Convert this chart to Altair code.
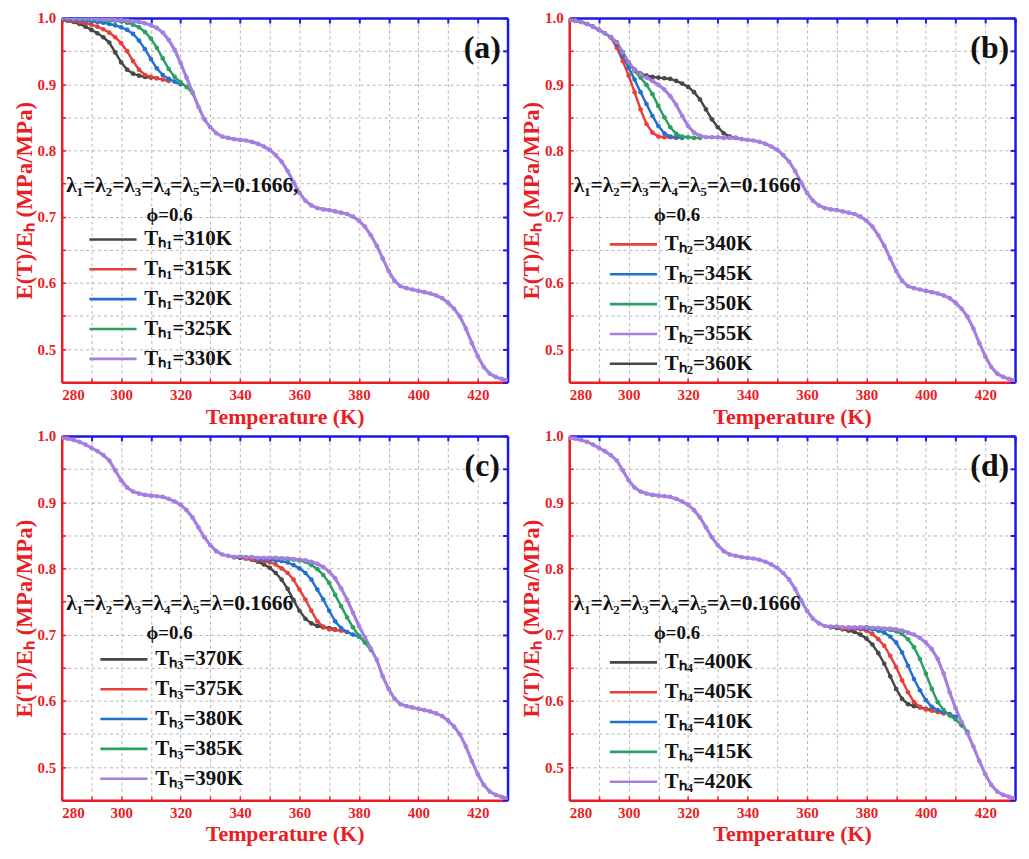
import altair as alt
import pandas as pd

FONT = "Liberation Serif"
RED_AX = "#ea1c24"
BLUE_AX = "#1a1ae6"
C_BLACK = "#474747"
C_RED = "#e5403d"
C_BLUE = "#2270cf"
C_GREEN = "#2e9e63"
C_PURPLE = "#a57fe0"

X_TICKS = [280, 290, 300, 310, 320, 330, 340, 350, 360, 370, 380, 390, 400, 410, 420, 430]
Y_TICKS = [0.45, 0.5, 0.55, 0.6, 0.65, 0.7, 0.75, 0.8, 0.85, 0.9, 0.95, 1.0]

# common curve
BASE_T = [280, 282, 284, 286, 288, 290, 292, 294, 296, 298, 300, 302, 304, 306, 308, 310,
          312, 314, 316, 318, 320, 322, 324, 326, 328, 330, 332, 334, 336, 338, 340, 342,
          344, 346, 348, 350, 352, 354, 356, 358, 360, 362, 364, 366, 368, 370, 372, 374,
          376, 378, 380, 382, 384, 386, 388, 390, 392, 394, 396, 398, 400, 402, 404, 406,
          408, 410, 412, 414, 416, 418, 420, 422, 424, 426, 428, 430]
BASE_V = [0.997, 0.996, 0.994, 0.991, 0.987, 0.982, 0.977, 0.971, 0.963, 0.948, 0.933, 0.922,
          0.916, 0.913, 0.911, 0.910, 0.909, 0.908, 0.905, 0.901, 0.896, 0.888, 0.877, 0.862,
          0.847, 0.835, 0.826, 0.821, 0.819, 0.817, 0.816, 0.815, 0.813, 0.810, 0.806, 0.801,
          0.793, 0.783, 0.769, 0.752, 0.736, 0.724, 0.717, 0.713, 0.711, 0.710, 0.708, 0.706,
          0.704, 0.700, 0.694, 0.685, 0.672, 0.656, 0.637, 0.618, 0.603, 0.595, 0.592, 0.590,
          0.588, 0.586, 0.584, 0.581, 0.577, 0.570, 0.561, 0.549, 0.531, 0.509, 0.489, 0.473,
          0.463, 0.458, 0.455, 0.453]

# panel (a)
A315_T = [280, 282, 284, 286, 288, 290, 292, 294, 296, 298, 300, 302, 304, 306, 308, 310, 312, 314, 316]
A315_V = [0.997, 0.996, 0.995, 0.994, 0.992, 0.990, 0.987, 0.983, 0.978, 0.971, 0.962, 0.950,
          0.935, 0.922, 0.914, 0.911, 0.909, 0.907, 0.905]
A320_T = [280, 282, 284, 286, 288, 290, 292, 294, 296, 298, 300, 302, 304, 306, 308, 310, 312,
          314, 316, 318, 320]
A320_V = [0.998, 0.998, 0.997, 0.997, 0.996, 0.995, 0.994, 0.993, 0.991, 0.989, 0.986, 0.982,
          0.976, 0.966, 0.953, 0.938, 0.924, 0.914, 0.908, 0.904, 0.900]
A325_T = [280, 282, 284, 286, 288, 290, 292, 294, 296, 298, 300, 302, 304, 306, 308, 310, 312,
          314, 316, 318, 320, 322, 324]
A325_V = [0.999, 0.999, 0.999, 0.998, 0.998, 0.998, 0.997, 0.997, 0.996, 0.996, 0.995, 0.993,
          0.990, 0.986, 0.979, 0.969, 0.955, 0.939, 0.923, 0.911, 0.903, 0.896, 0.887]
A330_T = [280, 282, 284, 286, 288, 290, 292, 294, 296, 298, 300, 302, 304, 306, 308, 310, 312,
          314, 316, 318, 320, 322, 324, 326]
A330_V = [1.000, 1.000, 0.999, 0.999, 0.999, 0.999, 0.998, 0.998, 0.998, 0.997, 0.997, 0.996,
          0.995, 0.994, 0.992, 0.989, 0.985, 0.978, 0.967, 0.952, 0.932, 0.910, 0.888, 0.866]

# panel (b)
B340_T = [294, 296, 298, 300, 302, 304, 306, 308, 310, 312, 314, 316]
B340_V = [0.971, 0.955, 0.935, 0.913, 0.888, 0.862, 0.840, 0.827, 0.821, 0.820, 0.820, 0.819]
B345_T = [294, 296, 298, 300, 302, 304, 306, 308, 310, 312, 314, 316, 318]
B345_V = [0.971, 0.960, 0.943, 0.925, 0.907, 0.888, 0.870, 0.852, 0.837, 0.826, 0.821, 0.820, 0.819]
B350_T = [296, 298, 300, 302, 304, 306, 308, 310, 312, 314, 316, 318, 320, 322, 324]
B350_V = [0.963, 0.947, 0.932, 0.920, 0.910, 0.899, 0.885, 0.867, 0.850, 0.835, 0.825, 0.821,
          0.820, 0.819, 0.819]
B355_T = [304, 306, 308, 310, 312, 314, 316, 318, 320, 322, 324, 326, 328, 330, 332, 334]
B355_V = [0.915, 0.910, 0.905, 0.899, 0.892, 0.882, 0.869, 0.852, 0.837, 0.827, 0.822, 0.820,
          0.820, 0.820, 0.819, 0.819]

# panel (c)
C375_T = [342, 344, 346, 348, 350, 352, 354, 356, 358, 360, 362, 364, 366, 368, 370, 372, 374, 376]
C375_V = [0.815, 0.814, 0.812, 0.811, 0.809, 0.806, 0.800, 0.793, 0.783, 0.768, 0.753, 0.736,
          0.720, 0.712, 0.708, 0.707, 0.706, 0.704]
C380_T = [346, 348, 350, 352, 354, 356, 358, 360, 362, 364, 366, 368, 370, 372, 374, 376, 378, 380]
C380_V = [0.814, 0.814, 0.813, 0.812, 0.811, 0.809, 0.805, 0.800, 0.793, 0.783, 0.768, 0.753,
          0.736, 0.720, 0.710, 0.704, 0.700, 0.697]
C385_T = [352, 354, 356, 358, 360, 362, 364, 366, 368, 370, 372, 374, 376, 378, 380, 382, 384]
C385_V = [0.815, 0.815, 0.814, 0.813, 0.812, 0.810, 0.805, 0.799, 0.790, 0.778, 0.760, 0.743,
          0.726, 0.711, 0.698, 0.688, 0.677]
C390_T = [340, 342, 344, 346, 348, 350, 352, 354, 356, 358, 360, 362, 364, 366, 368, 370, 372,
          374, 376, 378, 380, 382, 384, 386]
C390_V = [0.818, 0.817, 0.817, 0.816, 0.816, 0.816, 0.816, 0.815, 0.815, 0.814, 0.813, 0.812,
          0.810, 0.807, 0.802, 0.795, 0.785, 0.770, 0.753, 0.733, 0.713, 0.696, 0.679, 0.662]

# panel (d)
D405_T = [372, 374, 376, 378, 380, 382, 384, 386, 388, 390, 392, 394, 396, 398, 400, 402, 404, 406]
D405_V = [0.709, 0.709, 0.709, 0.708, 0.706, 0.701, 0.693, 0.683, 0.668, 0.651, 0.631, 0.613,
          0.598, 0.591, 0.587, 0.585, 0.583, 0.581]
D410_T = [376, 378, 380, 382, 384, 386, 388, 390, 392, 394, 396, 398, 400, 402, 404, 406, 408, 410]
D410_V = [0.710, 0.710, 0.709, 0.708, 0.706, 0.703, 0.697, 0.688, 0.673, 0.653, 0.633, 0.616,
          0.601, 0.591, 0.586, 0.583, 0.580, 0.576]
D415_T = [380, 382, 384, 386, 388, 390, 392, 394, 396, 398, 400, 402, 404, 406, 408, 410, 412, 414]
D415_V = [0.711, 0.710, 0.709, 0.708, 0.707, 0.705, 0.701, 0.693, 0.681, 0.663, 0.641, 0.618,
          0.598, 0.586, 0.578, 0.572, 0.563, 0.553]
D420_T = [368, 370, 372, 374, 376, 378, 380, 382, 384, 386, 388, 390, 392, 394, 396, 398, 400,
          402, 404, 406, 408, 410, 412, 414]
D420_V = [0.712, 0.712, 0.711, 0.711, 0.711, 0.711, 0.711, 0.710, 0.710, 0.709, 0.709, 0.708,
          0.706, 0.703, 0.700, 0.695, 0.688, 0.678, 0.663, 0.641, 0.613, 0.589, 0.568, 0.551]

LAMBDA_A = "λ₁=λ₂=λ₃=λ₄=λ₅=λ=0.1666,"
LAMBDA = "λ₁=λ₂=λ₃=λ₄=λ₅=λ=0.1666"
PHI = "ϕ=0.6"


def base_part(t0, t1):
    ts = [t for t in BASE_T if t0 <= t <= t1]
    vs = [v for t, v in zip(BASE_T, BASE_V) if t0 <= t <= t1]
    return ts, vs


def base_with(ot, ov):
    lo, hi = min(ot), max(ot)
    pts = [(t, v) for t, v in zip(BASE_T, BASE_V) if t < lo or t > hi] + list(zip(ot, ov))
    pts.sort()
    return [p[0] for p in pts], [p[1] for p in pts]


PANELS = [
    dict(tag="(a)", lam=LAMBDA_A, sub="ₕ₁",
         series=[("310", C_BLACK, base_part(280, 312)), ("315", C_RED, (A315_T, A315_V)),
                 ("320", C_BLUE, (A320_T, A320_V)), ("325", C_GREEN, (A325_T, A325_V)),
                 ("330", C_PURPLE, base_with(A330_T, A330_V))],
         draw=[0, 1, 2, 3, 4], lx=41, ly=212),
    dict(tag="(b)", lam=LAMBDA, sub="ₕ₂",
         series=[("340", C_RED, (B340_T, B340_V)), ("345", C_BLUE, (B345_T, B345_V)),
                 ("350", C_GREEN, (B350_T, B350_V)), ("355", C_PURPLE, base_with(B355_T, B355_V)),
                 ("360", C_BLACK, base_part(280, 336))],
         draw=[4, 0, 1, 2, 3], lx=54, ly=217),
    dict(tag="(c)", lam=LAMBDA, sub="ₕ₃",
         series=[("370", C_BLACK, base_part(338, 372)), ("375", C_RED, (C375_T, C375_V)),
                 ("380", C_BLUE, (C380_T, C380_V)), ("385", C_GREEN, (C385_T, C385_V)),
                 ("390", C_PURPLE, base_with(C390_T, C390_V))],
         draw=[0, 1, 2, 3, 4], lx=52, ly=214),
    dict(tag="(d)", lam=LAMBDA, sub="ₕ₄",
         series=[("400", C_BLACK, base_part(368, 402)), ("405", C_RED, (D405_T, D405_V)),
                 ("410", C_BLUE, (D410_T, D410_V)), ("415", C_GREEN, (D415_T, D415_V)),
                 ("420", C_PURPLE, base_with(D420_T, D420_V))],
         draw=[0, 1, 2, 3, 4], lx=54, ly=217),
]

ANN_T = [281.5, 308.5]
ANN_V = [0.746, 0.702]
TAG_T = 421.5
TAG_V = 0.955

W, H = 448, 366


def make_panel(p):
    labels = ["T" + p["sub"] + "=" + s[0] + "K" for s in p["series"]]
    colors = [s[1] for s in p["series"]]
    rows = []
    for k in p["draw"]:
        lab, col, (ts, vs) = p["series"][k]
        sw = 3.2 if col == C_PURPLE else 2.5
        for t, v in zip(ts, vs):
            rows.append({"T": t, "v": v, "label": labels[k], "sw": sw})
    df = pd.DataFrame(rows)

    xs = alt.Scale(domain=[280, 430], nice=False, zero=False)
    ys = alt.Scale(domain=[0.45, 1.0], nice=False, zero=False)

    bottom = alt.Axis(orient="bottom", values=X_TICKS,
                      labelExpr="datum.value % 20 == 0 ? datum.label : ''",
                      grid=True, gridColor="#b4b4b4", gridDash=[3, 3], gridWidth=1,
                      domainColor=RED_AX, domainWidth=2.5, tickColor=RED_AX, tickWidth=1.5,
                      tickSize={"expr": "-4"}, labelPadding=9, labelColor=RED_AX,
                      labelFont=FONT, labelFontSize=15, labelFontWeight="bold",
                      title="Temperature (K)", titleColor=RED_AX, titleFont=FONT,
                      titleFontSize=22, titleFontWeight="bold", titlePadding=4)
    left = alt.Axis(orient="left", values=Y_TICKS,
                    labelExpr="round(datum.value * 100) % 10 == 0 ? format(datum.value, '.1f') : ''",
                    grid=True, gridColor="#b4b4b4", gridDash=[3, 3], gridWidth=1,
                    domainColor=RED_AX, domainWidth=2.5, tickColor=RED_AX, tickWidth=1.5,
                    tickSize={"expr": "-4"}, labelPadding=10, labelColor=RED_AX,
                    labelFont=FONT, labelFontSize=15, labelFontWeight="bold",
                    title="E(T)/Eₕ (MPa/MPa)", titleColor=RED_AX, titleFont=FONT,
                    titleFontSize=23, titleFontWeight="bold", titlePadding=1)
    top = alt.Axis(orient="top", values=X_TICKS, labels=False, grid=False,
                   domainColor=BLUE_AX, domainWidth=2.5, tickColor=BLUE_AX, tickWidth=2,
                   tickSize={"expr": "-5"}, minExtent=0, maxExtent=0)
    right = alt.Axis(orient="right", values=Y_TICKS, labels=False, grid=False,
                     domainColor=BLUE_AX, domainWidth=2.5, tickColor=BLUE_AX, tickWidth=2,
                     tickSize={"expr": "-5"}, minExtent=0, maxExtent=0)

    legend = alt.Legend(title=None, orient="none", legendX=p["lx"], legendY=p["ly"],
                        symbolType="M-5,0H5", symbolSize=90, symbolStrokeWidth=2.6,
                        labelFont=FONT, labelFontSize=21, labelFontWeight="bold",
                        labelColor="#111111", labelOffset=21, rowPadding=8, padding=0,
                        labelLimit=300)

    lines = alt.Chart(df).mark_line(
        clip=True,
        point=alt.OverlayMarkDef(filled=True, size=22, opacity=1)
    ).encode(
        x=alt.X("T:Q", scale=xs, axis=bottom),
        y=alt.Y("v:Q", scale=ys, axis=left),
        color=alt.Color("label:N", scale=alt.Scale(domain=labels, range=colors), legend=legend),
        strokeWidth=alt.StrokeWidth("sw:Q", scale=None, legend=None),
    )

    frame = alt.Chart(df).mark_point(opacity=0).encode(
        x=alt.X("T:Q", title=None, axis=top),
        y=alt.Y("v:Q", title=None, axis=right),
    )

    ann = pd.DataFrame({"T": ANN_T, "v": ANN_V, "txt": [p["lam"], PHI], "fs": [21.5, 19]})
    ann_layer = alt.Chart(ann).mark_text(
        align="left", baseline="middle", font=FONT, fontWeight="bold", color="#111111"
    ).encode(
        x=alt.X("T:Q", axis=None),
        y=alt.Y("v:Q", axis=None),
        text="txt:N",
        size=alt.Size("fs:Q", scale=None, legend=None),
    )

    tag = pd.DataFrame({"T": [TAG_T], "v": [TAG_V], "txt": [p["tag"]]})
    tag_layer = alt.Chart(tag).mark_text(
        align="center", baseline="middle", font=FONT, fontWeight="bold", fontSize=32,
        color="#111111"
    ).encode(
        x=alt.X("T:Q", axis=None),
        y=alt.Y("v:Q", axis=None),
        text="txt:N",
    )

    return alt.layer(lines, frame, ann_layer, tag_layer).resolve_axis(
        x="independent", y="independent"
    ).properties(width=W, height=H)


pa, pb, pc, pd_ = [make_panel(p) for p in PANELS]
row1 = alt.hconcat(pa, pb, spacing=8).resolve_scale(color="independent")
row2 = alt.hconcat(pc, pd_, spacing=8).resolve_scale(color="independent")
chart = alt.vconcat(row1, row2, spacing=0).resolve_scale(color="independent").properties(
    padding={"left": 4, "top": 0, "right": 2, "bottom": 0}
).configure_view(stroke=None).configure(background="white")

chart.save("out.html", embed_options={"renderer": "svg", "actions": False})
